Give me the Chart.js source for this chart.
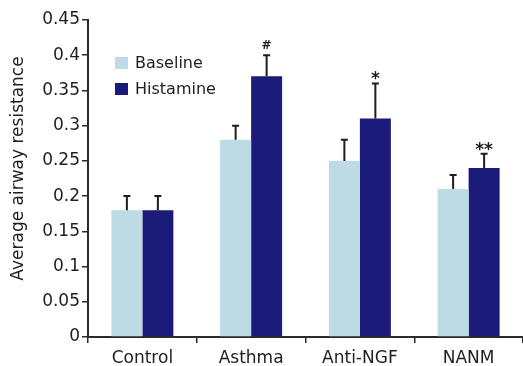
<!DOCTYPE html>
<html>
<head>
<meta charset="utf-8">
<script src="https://cdn.jsdelivr.net/npm/chart.js@4/dist/chart.umd.min.js"></script>
<style>
  html, body { margin: 0; padding: 0; background: #fff; }
  #wrap { width: 523px; height: 366px; position: relative; }
</style>
</head>
<body>
<div id="wrap"><canvas id="chart"></canvas></div>
<script>
// data
const categories = ['Control', 'Asthma', 'Anti-NGF', 'NANM'];
const baseline = [0.18, 0.28, 0.25, 0.21];
const baselineErr = [0.02, 0.02, 0.03, 0.02];
const histamine = [0.18, 0.37, 0.31, 0.24];
const histamineErr = [0.02, 0.03, 0.05, 0.02];
const histamineMarks = ['', '#', '*', '**'];
const yMax = 0.45;
const yStep = 0.05;
const yTitle = 'Average airway resistance';

const colors = {
    baseline: '#bcdbe4',
    histamine: '#1b1b79',
    axis: '#2a2a2a',
    text: '#1e1e1e'
};
const fontFamily = '"DejaVu Sans", "Liberation Sans", Arial, sans-serif';

// Draws upward-only error bars, significance marks, the inset legend and the y title
const extrasPlugin = {
    id: 'extras',
    afterDatasetsDraw(chart) {
        const ctx = chart.ctx;
        const yScale = chart.scales.y;
        const errs = [baselineErr, histamineErr];

        ctx.save();
        ctx.strokeStyle = colors.text;
        ctx.lineWidth = 2;
        chart.data.datasets.forEach((ds, di) => {
            const meta = chart.getDatasetMeta(di);
            meta.data.forEach((bar, i) => {
                const top = yScale.getPixelForValue(ds.data[i] + errs[di][i]);
                ctx.beginPath();
                ctx.moveTo(bar.x, bar.y);
                ctx.lineTo(bar.x, top);
                ctx.moveTo(bar.x - 3.5, top);
                ctx.lineTo(bar.x + 3.5, top);
                ctx.stroke();
            });
        });

        // significance marks above histamine error bars
        const hMeta = chart.getDatasetMeta(1);
        ctx.fillStyle = colors.text;
        ctx.textAlign = 'center';
        ctx.textBaseline = 'alphabetic';
        hMeta.data.forEach((bar, i) => {
            const mark = histamineMarks[i];
            if (!mark) return;
            const top = yScale.getPixelForValue(histamine[i] + histamineErr[i]);
            if (mark === '#') {
                ctx.font = 'bold 12px ' + fontFamily;
                ctx.fillText(mark, bar.x, top - 6);
            } else {
                ctx.font = 'bold 17px ' + fontFamily;
                ctx.fillText(mark, bar.x, top + 1);
            }
        });

        // legend inside the plot area
        const area = chart.chartArea;
        const lx = area.left + 27;
        const ly = area.top + 43;
        ctx.font = '16px ' + fontFamily;
        ctx.textAlign = 'left';
        ctx.textBaseline = 'middle';
        chart.data.datasets.forEach((ds, di) => {
            const y = ly + di * 26;
            ctx.fillStyle = ds.backgroundColor;
            ctx.fillRect(lx, y - 6, 13, 12);
            ctx.fillStyle = colors.text;
            ctx.fillText(ds.label, lx + 20, y + 1);
        });

        // y axis title, sitting a little above the plot centre as in the figure
        ctx.translate(19, (area.top + area.bottom) / 2 - 10);
        ctx.rotate(-Math.PI / 2);
        ctx.textAlign = 'center';
        ctx.font = '17px ' + fontFamily;
        ctx.fillText(yTitle, 0, 0);
        ctx.restore();
    }
};

const ctx = document.getElementById('chart').getContext('2d');
new Chart(ctx, {
    type: 'bar',
    data: {
        labels: categories,
        datasets: [
            {
                label: 'Baseline',
                data: baseline,
                backgroundColor: colors.baseline,
                borderWidth: 0
            },
            {
                label: 'Histamine',
                data: histamine,
                backgroundColor: colors.histamine,
                borderWidth: 0
            }
        ]
    },
    options: {
        responsive: true,
        maintainAspectRatio: false,
        animation: false,
        devicePixelRatio: 1,
        layout: {
            padding: { top: 20, right: 0, bottom: 0, left: 0 }
        },
        datasets: {
            bar: {
                barPercentage: 1,
                categoryPercentage: 0.57
            }
        },
        plugins: {
            legend: { display: false },
            tooltip: { enabled: false }
        },
        scales: {
            x: {
                grid: {
                    offset: true,
                    drawOnChartArea: false,
                    color: colors.axis,
                    tickLength: 6,
                    lineWidth: 1.5
                },
                border: { color: colors.axis, width: 2 },
                ticks: {
                    color: colors.text,
                    padding: 5,
                    font: { family: fontFamily, size: 17 }
                },
                afterFit(scale) { scale.height = 29; }
            },
            y: {
                min: 0,
                max: yMax,
                grid: {
                    drawOnChartArea: false,
                    color: colors.axis,
                    tickLength: 6,
                    lineWidth: 1.5
                },
                border: { color: colors.axis, width: 2 },
                ticks: {
                    stepSize: yStep,
                    color: colors.text,
                    padding: 2,
                    font: { family: fontFamily, size: 17 },
                    callback: value => String(+value.toFixed(2))
                },
                afterFit(scale) { scale.width = 88; }
            }
        }
    },
    plugins: [extrasPlugin]
});
</script>
</body>
</html>
